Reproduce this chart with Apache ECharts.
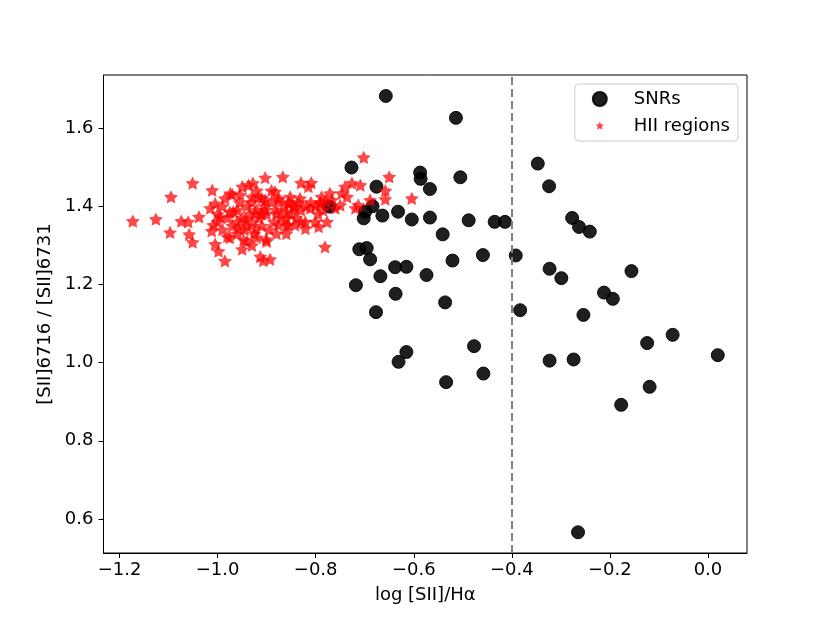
<!DOCTYPE html>
<html>
<head>
<meta charset="utf-8">
<script src="https://cdn.jsdelivr.net/npm/echarts@6/dist/echarts.min.js"></script>
<style>
  html, body { margin: 0; padding: 0; background: #fff; }
  #main { width: 830px; height: 623px; }
</style>
</head>
<body>
<div id="main"></div>
<script>
// SNRs: [log [SII]/Ha, [SII]6716/[SII]6731]
var snrPoints = [
  [-0.657, 1.682], [-0.514, 1.626], [-0.727, 1.499], [-0.587, 1.486], [-0.586, 1.470],
  [-0.505, 1.474], [-0.567, 1.444], [-0.676, 1.450], [-0.684, 1.400], [-0.702, 1.369],
  [-0.664, 1.376], [-0.632, 1.386], [-0.604, 1.366], [-0.567, 1.371], [-0.488, 1.364],
  [-0.435, 1.360], [-0.414, 1.360], [-0.541, 1.328], [-0.392, 1.274], [-0.459, 1.275],
  [-0.521, 1.261], [-0.711, 1.290], [-0.696, 1.293], [-0.689, 1.264], [-0.638, 1.244],
  [-0.615, 1.245], [-0.574, 1.224], [-0.668, 1.221], [-0.718, 1.198], [-0.637, 1.176],
  [-0.536, 1.154], [-0.677, 1.129], [-0.383, 1.134], [-0.477, 1.042], [-0.615, 1.027],
  [-0.631, 1.002], [-0.458, 0.972], [-0.534, 0.950], [-0.347, 1.509], [-0.324, 1.451],
  [-0.277, 1.370], [-0.263, 1.347], [-0.241, 1.335], [-0.323, 1.240], [-0.299, 1.216],
  [-0.156, 1.234], [-0.212, 1.179], [-0.194, 1.163], [-0.254, 1.122], [-0.124, 1.050],
  [-0.072, 1.071], [0.020, 1.019], [-0.323, 1.005], [-0.274, 1.008], [-0.119, 0.938],
  [-0.177, 0.892], [-0.265, 0.566], [-0.772, 1.399], [-0.699, 1.386]
];

// HII regions
var hiiPoints = [
  [-1.173, 1.362], [-1.126, 1.367], [-1.095, 1.424], [-1.051, 1.459], [-1.097, 1.333],
  [-1.074, 1.362], [-1.060, 1.360], [-1.038, 1.373], [-1.058, 1.328], [-1.051, 1.308],
  [-1.011, 1.441], [-1.015, 1.395], [-1.005, 1.407], [-1.009, 1.352], [-1.012, 1.337],
  [-1.005, 1.303], [-0.998, 1.285], [-0.985, 1.260], [-0.980, 1.322], [-0.974, 1.433],
  [-0.968, 1.386], [-0.995, 1.373], [-0.947, 1.314], [-0.954, 1.429], [-0.958, 1.344],
  [-0.937, 1.454], [-0.928, 1.459], [-0.903, 1.473], [-0.867, 1.475], [-0.830, 1.460],
  [-0.809, 1.460], [-0.913, 1.271], [-0.893, 1.264], [-0.907, 1.261], [-0.901, 1.315],
  [-0.856, 1.352], [-0.821, 1.343], [-0.832, 1.420], [-0.794, 1.348], [-0.883, 1.437],
  [-0.852, 1.424], [-0.815, 1.450], [-0.702, 1.525], [-0.650, 1.475], [-0.604, 1.420],
  [-0.658, 1.440], [-0.658, 1.418], [-0.689, 1.416], [-0.713, 1.403], [-0.709, 1.454],
  [-0.726, 1.459], [-0.740, 1.450], [-0.747, 1.433], [-0.736, 1.424], [-0.719, 1.395],
  [-0.781, 1.412], [-0.791, 1.407], [-0.767, 1.416], [-0.777, 1.360], [-0.781, 1.296],
  [-0.821, 1.360], [-0.801, 1.360], [-0.860, 1.369], [-0.842, 1.395], [-0.811, 1.395],
  [-0.760, 1.395], [-0.750, 1.403], [-0.852, 1.407], [-0.876, 1.416], [-0.903, 1.416],
  [-0.917, 1.424], [-0.930, 1.424], [-0.879, 1.382], [-0.903, 1.390], [-0.923, 1.382],
  [-0.860, 1.386], [-0.876, 1.352], [-0.923, 1.343], [-0.944, 1.365], [-0.788, 1.424],
  [-0.771, 1.433], [-0.842, 1.352],
  // dense core
  [-0.990, 1.400], [-0.980, 1.370], [-0.970, 1.350], [-0.960, 1.390], [-0.955, 1.410],
  [-0.950, 1.370], [-0.945, 1.340], [-0.940, 1.400], [-0.935, 1.380], [-0.930, 1.360],
  [-0.930, 1.410], [-0.925, 1.330], [-0.920, 1.390], [-0.915, 1.370], [-0.910, 1.350],
  [-0.910, 1.420], [-0.905, 1.400], [-0.900, 1.380], [-0.895, 1.340], [-0.890, 1.410],
  [-0.885, 1.360], [-0.880, 1.390], [-0.875, 1.420], [-0.870, 1.370], [-0.865, 1.400],
  [-0.860, 1.350], [-0.855, 1.410], [-0.850, 1.380], [-0.845, 1.400], [-0.840, 1.370],
  [-0.835, 1.410], [-0.830, 1.390], [-0.820, 1.400], [-0.810, 1.410], [-0.800, 1.400],
  [-0.795, 1.380], [-0.790, 1.410], [-0.785, 1.390], [-0.940, 1.350], [-0.960, 1.330],
  [-0.975, 1.320], [-0.990, 1.340], [-1.000, 1.380], [-1.000, 1.360], [-0.985, 1.420],
  [-0.970, 1.430], [-0.920, 1.320], [-0.900, 1.310], [-0.940, 1.310], [-0.880, 1.330],
  [-0.950, 1.290], [-0.930, 1.300], [-0.860, 1.330], [-0.830, 1.360], [-0.920, 1.440],
  [-0.890, 1.440], [-0.950, 1.450], [-0.975, 1.385], [-0.960, 1.360], [-0.910, 1.380]
];

var xTicks = [-1.2, -1.0, -0.8, -0.6, -0.4, -0.2, 0.0];
var yTicks = [0.6, 0.8, 1.0, 1.2, 1.4, 1.6];
var cutLine = -0.4;

var starPath = 'path://M0,-10L2.94,-4.05L9.51,-3.09L4.76,1.55L5.88,8.09L0,5L-5.88,8.09L-4.76,1.55L-9.51,-3.09L-2.94,-4.05Z';
// same star with a padded box so it looks smaller in the legend
var starLegend = 'path://M-16,-16M16,16M0,-10L2.94,-4.05L9.51,-3.09L4.76,1.55L5.88,8.09L0,5L-5.88,8.09L-4.76,1.55L-9.51,-3.09L-2.94,-4.05Z';

var font = 'DejaVu Sans';
var chart = echarts.init(document.getElementById('main'), null, { renderer: 'canvas' });

function fmt(v) {
  return (v < 0 ? '\u2212' : '') + Math.abs(v).toFixed(1);
}

var option = {
  animation: false,
  backgroundColor: '#fff',
  textStyle: { fontFamily: font },
  grid: {
    left: 103.5, right: 83, top: 75, bottom: 70,
    show: true, borderColor: '#000', borderWidth: 1, backgroundColor: 'transparent'
  },
  legend: {
    orient: 'vertical',
    right: 92, top: 84,
    itemWidth: 14, itemHeight: 14, itemGap: 9,
    padding: [6, 8, 6, 17],
    borderColor: '#cccccc', borderWidth: 1, borderRadius: 4,
    backgroundColor: 'rgba(255,255,255,0.8)',
    textStyle: { fontFamily: font, fontSize: 18, color: '#000', padding: [0, 0, 0, 22] },
    data: [
      { name: 'SNRs', icon: 'circle' },
      { name: 'HII regions', icon: starLegend }
    ]
  },
  xAxis: {
    type: 'value',
    min: -1.2327, max: 0.0796,
    name: 'log [SII]/H\u03b1',
    nameLocation: 'middle', nameGap: 33,
    nameTextStyle: { fontFamily: font, fontSize: 18, color: '#000' },
    axisLine: { show: true, onZero: false, lineStyle: { color: '#000', width: 1 } },
    axisTick: { show: true, inside: false, length: 5, customValues: xTicks, lineStyle: { color: '#000' } },
    axisLabel: { customValues: xTicks, formatter: fmt, margin: 8, fontFamily: font, fontSize: 18, color: '#000' },
    splitLine: { show: false }
  },
  yAxis: {
    type: 'value',
    min: 0.513, max: 1.7356,
    name: '[SII]6716 / [SII]6731',
    nameLocation: 'middle', nameGap: 47,
    nameTextStyle: { fontFamily: font, fontSize: 18, color: '#000' },
    axisLine: { show: true, onZero: false, lineStyle: { color: '#000', width: 1 } },
    axisTick: { show: true, inside: false, length: 5, customValues: yTicks, lineStyle: { color: '#000' } },
    axisLabel: { customValues: yTicks, formatter: function (v) { return v.toFixed(1); }, margin: 10, fontFamily: font, fontSize: 18, color: '#000' },
    splitLine: { show: false }
  },
  series: [
    {
      name: 'SNRs',
      type: 'scatter',
      symbol: 'circle',
      symbolSize: 13,
      itemStyle: { color: '#000', opacity: 0.88, borderColor: '#000', borderWidth: 1 },
      data: snrPoints,
      markLine: {
        silent: true,
        symbol: ['none', 'none'],
        label: { show: false },
        lineStyle: { color: '#808080', width: 2, type: [8, 4] },
        data: [{ xAxis: cutLine }]
      }
    },
    {
      name: 'HII regions',
      type: 'scatter',
      symbol: starPath,
      symbolSize: 14,
      symbolKeepAspect: true,
      itemStyle: { color: '#ff0000', opacity: 0.72 },
      data: hiiPoints
    }
  ]
};

chart.setOption(option);
</script>
</body>
</html>
